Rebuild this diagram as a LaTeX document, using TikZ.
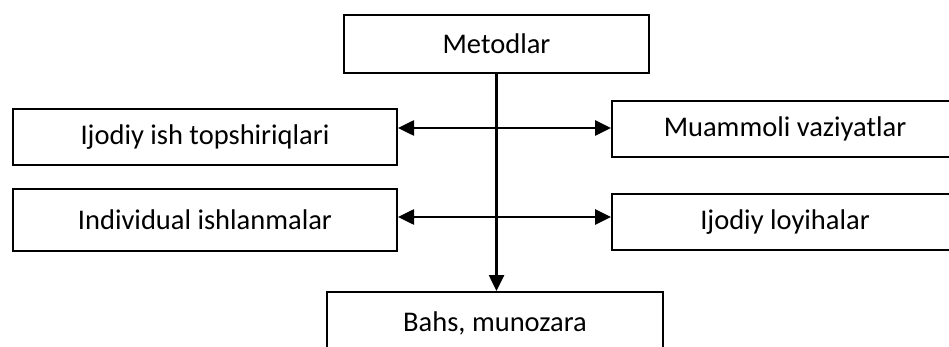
\documentclass[tikz,border=0pt]{standalone}
\usepackage{fontspec}
\setmainfont{Carlito}
\usetikzlibrary{positioning, arrows.meta}

\begin{document}
\begin{tikzpicture}[x=1pt, y=-1pt,%
  every node/.style={draw=black, line width=2pt, inner sep=0pt, shape=rectangle,
    font=\fontsize{28.5}{32}\selectfont},
  down/.style={line width=2.6pt, -{Triangle[length=16pt,width=15pt]}},
  link/.style={line width=2.6pt, {Triangle[length=16pt,width=15pt]}-{Triangle[length=16pt,width=15pt]}}
  ]
  \useasboundingbox (0,0) rectangle (949,347);
  \node[minimum width=305pt, minimum height=58pt] (met) at (496.5,44) {Metodlar};
  \node[minimum width=384pt, minimum height=56pt] (ijod) at (205,137) {Ijodiy ish topshiriqlari};
  \node[minimum width=384pt, minimum height=61pt] (indiv) at (205,220) {Individual ishlanmalar};
  \node[minimum width=346pt, minimum height=56pt] (muam) at (785,129) {Muammoli vaziyatlar};
  \node[minimum width=346pt, minimum height=56pt] (loyi) at (785,222) {Ijodiy loyihalar};
  \node[minimum width=336pt, minimum height=62pt] (bahs) at (495,323) {Bahs, munozara};
    \draw[down] (met.south) -- (met.south |- bahs.north);
    \draw[link] (ijod.east |- 0,128) -- (muam.west |- 0,128);
    \draw[link] (indiv.east |- 0,217) -- (loyi.west |- 0,217);
\end{tikzpicture}
\end{document}
